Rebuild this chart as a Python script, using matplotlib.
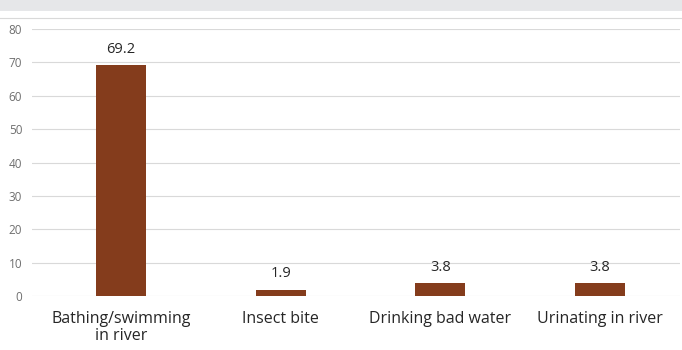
import matplotlib.pyplot as plt
from matplotlib.patches import Rectangle
from matplotlib.lines import Line2D

categories = ['Bathing/swimming\nin river', 'Insect bite', 'Drinking bad water', 'Urinating in river']
values = [69.2, 1.9, 3.8, 3.8]
yticks = [0, 10, 20, 30, 40, 50, 60, 70, 80]

plt.rcParams['font.family'] = ['Open Sans', 'DejaVu Sans']

fig = plt.figure(figsize=(6.82, 3.5), dpi=100)

# grey band across the top and a thin rule beneath it
fig.patches.append(Rectangle((0, 1 - 11 / 350), 1, 11 / 350, transform=fig.transFigure,
                             facecolor='#e6e7e9', edgecolor='none'))
fig.lines.append(Line2D([0, 1], [1 - 18 / 350, 1 - 18 / 350], transform=fig.transFigure,
                        color='#d9d9d9', lw=0.8))

ax = fig.add_axes([32 / 682, 1 - 296 / 350, 648 / 682, 267 / 350])
x = range(len(categories))
bars = ax.bar(x, values, width=0.313, color='#843c1c', zorder=3)

for b, v in zip(bars, values):
    ax.text(b.get_x() + b.get_width() / 2, v + 2.5, f'{v:.1f}', ha='center', va='bottom',
            fontsize=10.5, color='#262626')

ax.set_ylim(0, 80)
ax.set_xlim(-0.558, 3.5)
ax.set_yticks(yticks)
ax.set_xticks(list(x))
ax.set_xticklabels(categories, fontsize=11.5, color='#262626', linespacing=1.05)
ax.tick_params(axis='y', labelsize=8.5, labelcolor='#6f6f6f', length=0, pad=7)
ax.tick_params(axis='x', length=0, pad=11)
ax.grid(axis='y', color='#d9d9d9', lw=0.8, zorder=0)
for s in ax.spines.values():
    s.set_visible(False)

fig.savefig('out.png', dpi=100)
